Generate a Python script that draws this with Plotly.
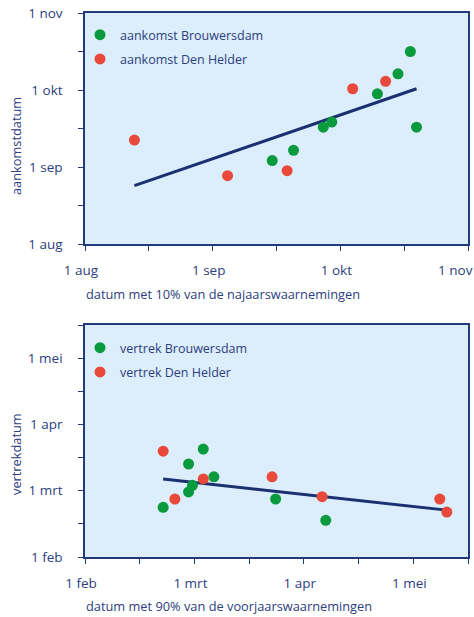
import plotly.graph_objects as go

# ---------------- data (dates) ----------------
# Top panel: arrival (aankomst) vs date with 10% of autumn observations
aank_brouw_x = ["15 sep", "20 sep", "27 sep", "29 sep", "10 okt", "15 okt", "18 okt", "19.5 okt"]
aank_brouw_y = ["3.5 sep", "7.5 sep", "16.5 sep", "18.5 sep", "29.5 sep", "7.5 okt", "16.5 okt", "16.5 sep"]
aank_helder_x = ["13 aug", "4.5 sep", "18.5 sep", "4 okt", "12 okt"]
aank_helder_y = ["11.5 sep", "28.5 aug", "30.5 aug", "1.5 okt", "4.5 okt"]
aank_trend_x = ["13 aug", "19.5 okt"]
aank_trend_y = ["24.5 aug", "1.5 okt"]

# Bottom panel: departure (vertrek) vs date with 90% of spring observations
vertr_brouw_x = ["21 feb", "27.5 feb", "3.5 mrt", "6.5 mrt", "28.5 feb", "27.5 feb", "24 mrt", "7 apr"]
vertr_brouw_y = ["22 feb", "13.5 mrt", "20.5 mrt", "7.5 mrt", "3.5 mrt", "28.5 feb", "25.5 feb", "16.5 feb"]
vertr_helder_x = ["21 feb", "24 feb", "3.5 mrt", "23 mrt", "6 apr", "8.5 mei", "10.5 mei"]
vertr_helder_y = ["19.5 mrt", "25.5 feb", "6.5 mrt", "7.5 mrt", "26.5 feb", "25.5 feb", "20 feb"]
vertr_trend_x = ["21 feb", "10.5 mei"]
vertr_trend_y = ["6.5 mrt", "20.8 feb"]

top_ticks = ["1 aug", "1 sep", "1 okt", "1 nov"]
bot_ticks = ["1 feb", "1 mrt", "1 apr", "1 mei"]

MONTHS = {"jan": 1, "feb": 2, "mrt": 3, "apr": 4, "mei": 5, "jun": 6,
          "jul": 7, "aug": 8, "sep": 9, "okt": 10, "nov": 11, "dec": 12}
DAYS = {1: 31, 2: 28, 3: 31, 4: 30, 5: 31, 6: 30, 7: 31, 8: 31, 9: 30, 10: 31, 11: 30, 12: 31}


def months(labels, base):
    """Convert 'day month' labels to a month-unit scale (the chart spaces months equally)."""
    out = []
    for s in labels:
        d, m = s.split()
        mi = MONTHS[m]
        out.append(mi - base + (float(d) - 1) / DAYS[mi])
    return out


NAVY = "#243a7a"
TEXT = "#2c4080"
GREEN = "#0a9a3e"
RED = "#e8493b"
BG = "#dcedfb"
FONT = "Open Sans"

fig = go.Figure()

# top panel
fig.add_trace(go.Scatter(x=months(aank_trend_x, 8), y=months(aank_trend_y, 8), mode="lines",
                         line=dict(color="#1b3070", width=3), showlegend=False,
                         xaxis="x", yaxis="y", hoverinfo="skip"))
fig.add_trace(go.Scatter(x=months(aank_brouw_x, 8), y=months(aank_brouw_y, 8), mode="markers",
                         marker=dict(color=GREEN, size=11), name="aankomst Brouwersdam",
                         xaxis="x", yaxis="y", legend="legend", legendgroup="a1"))
fig.add_trace(go.Scatter(x=months(aank_helder_x, 8), y=months(aank_helder_y, 8), mode="markers",
                         marker=dict(color=RED, size=11), name="aankomst Den Helder",
                         xaxis="x", yaxis="y", legend="legend", legendgroup="a2"))

# bottom panel
fig.add_trace(go.Scatter(x=months(vertr_trend_x, 2), y=months(vertr_trend_y, 2), mode="lines",
                         line=dict(color="#1b3070", width=3), showlegend=False,
                         xaxis="x2", yaxis="y2", hoverinfo="skip"))
fig.add_trace(go.Scatter(x=months(vertr_brouw_x, 2), y=months(vertr_brouw_y, 2), mode="markers",
                         marker=dict(color=GREEN, size=11), name="vertrek Brouwersdam",
                         xaxis="x2", yaxis="y2", legend="legend2", legendgroup="b1"))
fig.add_trace(go.Scatter(x=months(vertr_helder_x, 2), y=months(vertr_helder_y, 2), mode="markers",
                         marker=dict(color=RED, size=11), name="vertrek Den Helder",
                         xaxis="x2", yaxis="y2", legend="legend2", legendgroup="b2"))

W, H = 474, 617


def px(x):
    return x / W


def py(y):
    return 1 - y / H


def axis(domain, rng, ticks, anchor, shift=0):
    d = dict(domain=domain, range=rng, anchor=anchor, automargin=False,
             tickmode="array", tickvals=list(range(len(ticks))), ticktext=ticks,
             ticks="outside", ticklen=5, tickcolor=NAVY, tickwidth=1.2,
             ticklabeloverflow="allow",
             minor=dict(tickmode="array",
                        tickvals=[i + 0.5 for i in range(int(rng[1] + 0.5))],
                        ticks="outside", ticklen=5, tickcolor=NAVY, tickwidth=1.2),
             showline=True, linecolor=NAVY, linewidth=1.5, mirror=True,
             showgrid=False, zeroline=False,
             tickfont=dict(family=FONT, size=13.5, color=TEXT),
             fixedrange=True)
    if shift:
        d["ticklabelshift"] = shift
    return d


# the last top tick label sits at the right edge; pad it so it stays in view
top_ticks_x = top_ticks[:-1] + [top_ticks[-1] + "\u00a0" * 5]

xd = [px(85), px(468)]
fig.update_layout(
    width=W, height=H,
    margin=dict(l=0, r=0, t=0, b=0, autoexpand=False),
    paper_bgcolor="white",
    plot_bgcolor=BG,
    font=dict(family=FONT, color=TEXT),
    xaxis=axis(xd, [0, 3], top_ticks_x, "y", shift=-4),
    yaxis=axis([py(244), py(13)], [0, 3], top_ticks, "x"),
    xaxis2=axis(xd, [0, 3.5], bot_ticks, "y2", shift=-4),
    yaxis2=axis([py(557), py(325)], [0, 3.5], bot_ticks, "x2"),
    legend=dict(x=px(80), y=py(20), xanchor="left", yanchor="top",
                bgcolor="rgba(0,0,0,0)", font=dict(family=FONT, size=12.5, color=TEXT),
                tracegroupgap=5, itemwidth=30),
    legend2=dict(x=px(80), y=py(333), xanchor="left", yanchor="top",
                 bgcolor="rgba(0,0,0,0)", font=dict(family=FONT, size=12.5, color=TEXT),
                 tracegroupgap=5, itemwidth=30),
    showlegend=True,
)
fig.update_xaxes(ticklabelstandoff=8)
fig.update_yaxes(ticklabelstandoff=13)

ann = dict(xref="paper", yref="paper", showarrow=False,
           font=dict(family=FONT, size=12.8, color=TEXT))
fig.add_annotation(text="datum met 10% van de najaarswaarnemingen", x=px(84), y=py(294),
                   xanchor="left", yanchor="middle", **ann)
fig.add_annotation(text="datum met 90% van de voorjaarswaarnemingen", x=px(84), y=py(606),
                   xanchor="left", yanchor="middle", **ann)
fig.add_annotation(text="aankomstdatum", x=px(16), y=py(146), textangle=-90,
                   xanchor="center", yanchor="middle", **ann)
fig.add_annotation(text="vertrekdatum", x=px(16), y=py(454), textangle=-90,
                   xanchor="center", yanchor="middle", **ann)

# the browser's default 8px body margin is removed so the figure fills the window
fig.write_html("out.html", config={"displayModeBar": False},
               post_script="document.body.style.margin='0px';")
